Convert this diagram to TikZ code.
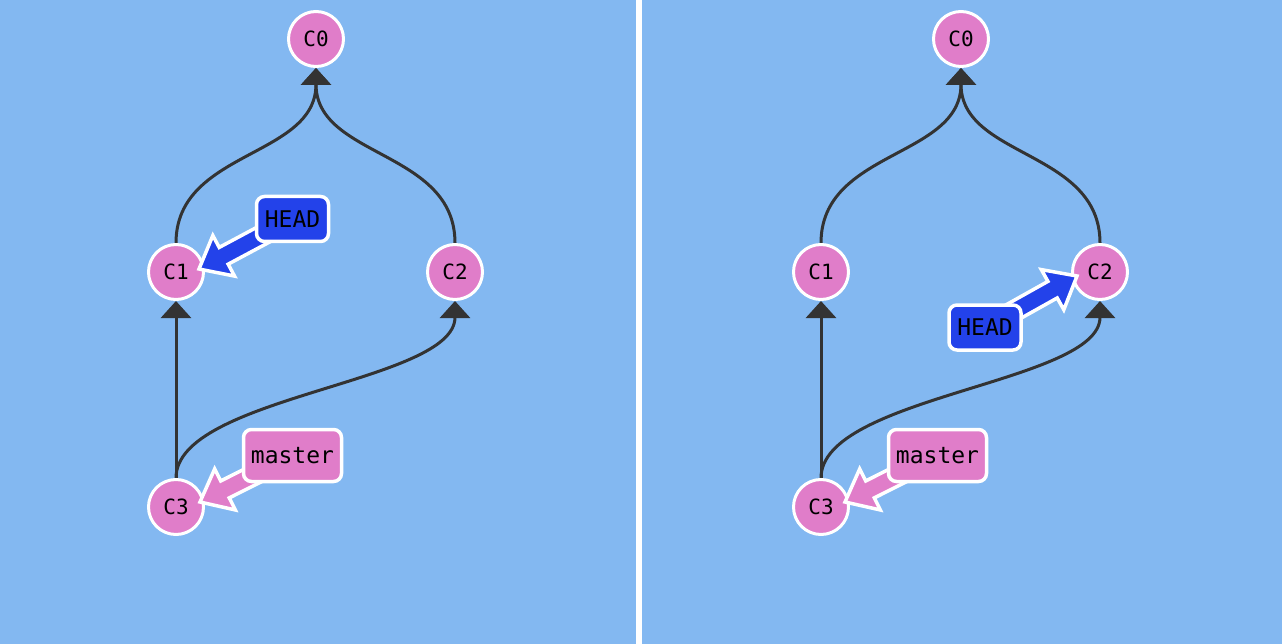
\documentclass[tikz,border=0pt]{standalone}
\usepackage{fontspec}
\newfontfamily\gitmono{DejaVu Sans Mono}
\usetikzlibrary{arrows.meta,calc}
\definecolor{bgblue}{HTML}{83B8F1}
\definecolor{cpink}{HTML}{E07DC9}
\definecolor{hblue}{HTML}{2342EA}
\definecolor{edgegray}{HTML}{333333}
\pgfdeclarelayer{bglayer}
\pgfdeclarelayer{edgelayer}
\pgfdeclarelayer{labellayer}
\pgfsetlayers{bglayer,edgelayer,main,labellayer}
\tikzset{
  commit/.style={circle, minimum size=55pt, inner sep=0pt, fill=cpink, draw=white, line width=3pt,
    font=\gitmono\fontsize{21}{21}\selectfont},
  reflabel/.style={rectangle, rounded corners=8pt, draw=white, line width=3.5pt, inner sep=0pt,
    font=\gitmono\fontsize{23}{23}\selectfont},
  parent/.style={draw=edgegray, line width=3pt, -{Triangle[width=30pt,length=17pt]}},
  blockarrow/.style={draw=white, line width=3.5pt, line join=miter},
}
\newcommand\refarrow[3]{% start, tip, colour
  \path[blockarrow, fill=#3]
    ($(#1)!9.5pt!90:(#2)$) --
    ($($(#2)!28pt!(#1)$)!9.5pt!90:(#2)$) --
    ($($(#2)!28pt!(#1)$)!23pt!90:(#2)$) --
    (#2) --
    ($($(#2)!28pt!(#1)$)!23pt!-90:(#2)$) --
    ($($(#2)!28pt!(#1)$)!9.5pt!-90:(#2)$) --
    ($(#1)!9.5pt!-90:(#2)$) -- cycle;
}
\begin{document}
\begin{tikzpicture}[x=1pt,y=-1pt]
\begin{pgfonlayer}{bglayer}
  \fill[bgblue] (0,0) rectangle (1282,644);
  \fill[white] (636,0) rectangle (642,644);
\end{pgfonlayer}
\useasboundingbox (0,0) rectangle (1282,644);

% ---------- left panel ----------
\node[commit] (lc0) at (316,39) {C0};
\node[commit] (lc1) at (176,272) {C1};
\node[commit] (lc2) at (455,272) {C2};
\node[commit] (lc3) at (176,507) {C3};
\begin{pgfonlayer}{edgelayer}
  \draw[parent] (lc1.north) .. controls +(0,-93) and +(0,90) .. (lc0.south);
  \draw[parent] (lc2.north) .. controls +(0,-93) and +(0,90) .. (lc0.south);
  \draw[parent] (lc3) -- (lc1);
  \draw[parent] (lc3.north) .. controls +(0,-82) and +(0,82) .. (lc2.south);
\end{pgfonlayer}
\coordinate (lheadpos) at (292.5,219);
\coordinate (lmasterpos) at (292.5,455.5);
\coordinate (lheadtip) at ($(lc1)+(23,-3)$);
\coordinate (lmastertip) at ($(lc3)+(24,-5)$);
\refarrow{lheadpos}{lheadtip}{hblue}
\refarrow{lmasterpos}{lmastertip}{cpink}
\begin{pgfonlayer}{labellayer}
  \node[reflabel, fill=hblue, minimum width=72pt, minimum height=45pt] (lhead) at (lheadpos) {HEAD};
  \node[reflabel, fill=cpink, minimum width=98pt, minimum height=52pt] (lmaster) at (lmasterpos) {master};
\end{pgfonlayer}

% ---------- right panel ----------
\node[commit] (rc0) at (961,39) {C0};
\node[commit] (rc1) at (821,272) {C1};
\node[commit] (rc2) at (1100,272) {C2};
\node[commit] (rc3) at (821,507) {C3};
\begin{pgfonlayer}{edgelayer}
  \draw[parent] (rc1.north) .. controls +(0,-93) and +(0,90) .. (rc0.south);
  \draw[parent] (rc2.north) .. controls +(0,-93) and +(0,90) .. (rc0.south);
  \draw[parent] (rc3) -- (rc1);
  \draw[parent] (rc3.north) .. controls +(0,-82) and +(0,82) .. (rc2.south);
\end{pgfonlayer}
\coordinate (rheadpos) at (985,327.5);
\coordinate (rmasterpos) at (937.5,455.5);
\coordinate (rheadtip) at ($(rc2)+(-23,4)$);
\coordinate (rmastertip) at ($(rc3)+(24,-5)$);
\refarrow{rheadpos}{rheadtip}{hblue}
\refarrow{rmasterpos}{rmastertip}{cpink}
\begin{pgfonlayer}{labellayer}
  \node[reflabel, fill=hblue, minimum width=72pt, minimum height=45pt] (rhead) at (rheadpos) {HEAD};
  \node[reflabel, fill=cpink, minimum width=98pt, minimum height=52pt] (rmaster) at (rmasterpos) {master};
\end{pgfonlayer}
\end{tikzpicture}
\end{document}
